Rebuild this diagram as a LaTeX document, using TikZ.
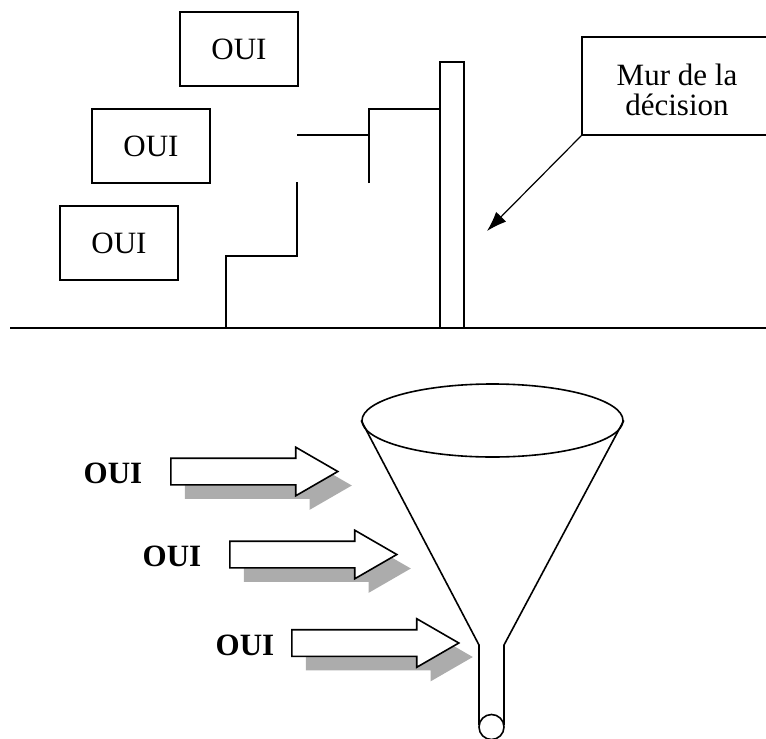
\documentclass[tikz,border=0pt]{standalone}
\usepackage{fontspec}
\setmainfont{Liberation Serif}
\usetikzlibrary{positioning,shapes.geometric,shapes.arrows,shadows,arrows.meta}

\begin{document}
\begin{tikzpicture}[x=1pt, y=-1pt, line width=1.6pt, font=\fontsize{31pt}{30pt}\selectfont]
      \tikzset{oui box/.style={draw, minimum width=118pt, minimum height=74pt, inner sep=0pt},
               oui label/.style={font=\fontsize{31pt}{30pt}\selectfont\bfseries, inner sep=0pt, yshift=-2pt},
               push arrow/.style={single arrow, draw, fill=white, anchor=tail, inner xsep=0pt, inner ysep=12.5pt,
                 minimum height=167pt, minimum width=47pt, single arrow head extend=11pt,
                 single arrow tip angle=60,
                 drop shadow={shadow xshift=14pt, shadow yshift=-14pt, fill=gray!65, opacity=1}}}

      \useasboundingbox (0,0) rectangle (766,739);
      \clip (0,0) rectangle (766,739);

      % Ground and wall
      \draw (10,328) -- (766,328);
      \draw (440,328) rectangle (464,62);

      % Steps up to the wall
      \draw (226,328) -- (226,256) -- (297,256) -- (297,182);
      \draw (297,135) -- (369,135);
      \draw (369,183) -- (369,109) -- (440,109);

      % Three OUI boxes
      \node[oui box] (oui_top) at (239,49) {OUI};
      \node[oui box] (oui_mid) at (151,146) {OUI};
      \node[oui box] (oui_low) at (119,243) {OUI};

      % Wall label with arrow
      \node[draw, align=center, minimum width=190pt, minimum height=98pt, inner sep=0pt] (mur) at (677,86) {\rule{0pt}{30pt}Mur de la\\décision};
      \coordinate (wall_hit) at (487,231);
      \draw[line width=1.2pt, -{Latex[length=20pt,width=14pt]}] (mur.south west) -- (wall_hit);

      % --- Funnel ---
      \node[draw, ellipse, minimum width=261pt, minimum height=73pt, inner sep=0pt] (rim) at (492.5,420.5) {};
      \coordinate (neck_l) at (479,645);
      \coordinate (neck_r) at (504,645);
      \draw (rim.west) -- (neck_l) -- (479,725);
      \draw (rim.east) -- (neck_r) -- (504,725);
      \node[draw, circle, minimum size=25pt, inner sep=0pt] (spout) at (491.5,727) {};

      % Block arrows pushing into the funnel
      \node[push arrow] (arr1) at (170,471.5) {};
      \node[push arrow] (arr2) at (229,554.5) {};
      \node[push arrow] (arr3) at (291,643) {};

      \node[oui label, left=27pt of arr1.tail] (oui1) {OUI};
      \node[oui label, left=27pt of arr2.tail] (oui2) {OUI};
      \node[oui label, left=16pt of arr3.tail] (oui3) {OUI};

    \end{tikzpicture}
\end{document}
